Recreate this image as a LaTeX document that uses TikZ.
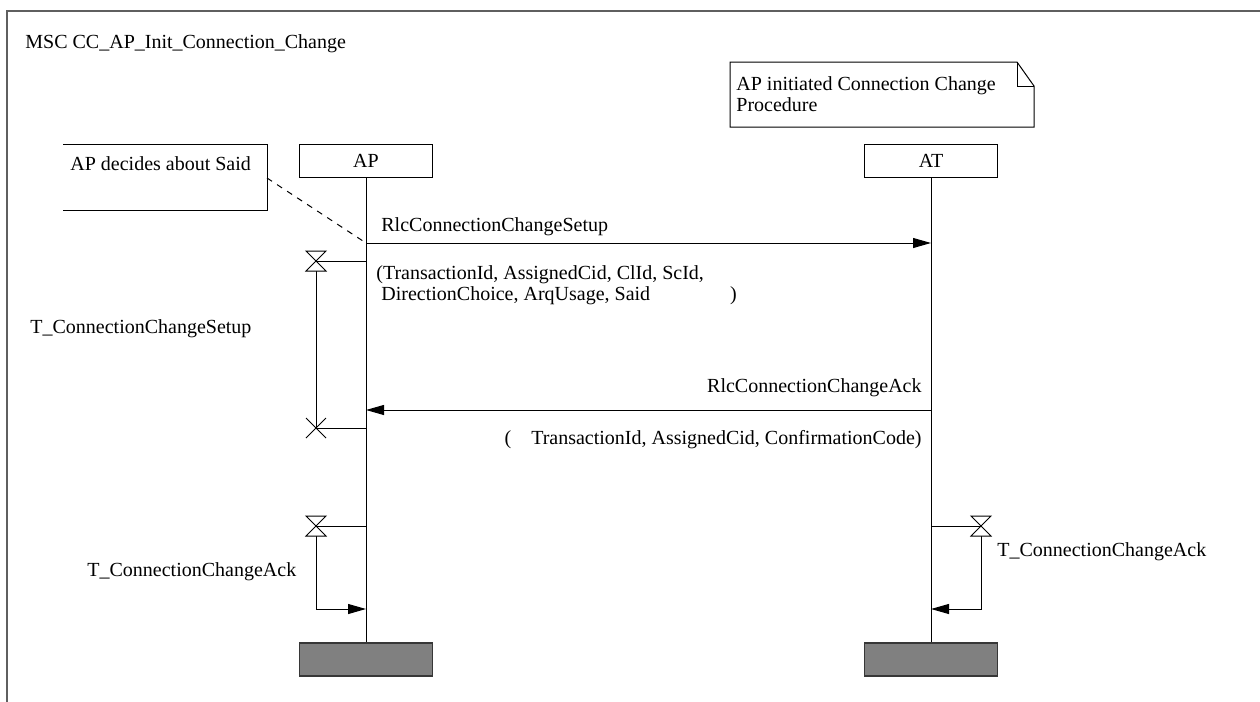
\documentclass[tikz,border=0pt]{standalone}
\usepackage{fontspec}
\setmainfont{Liberation Serif}
\usepackage{tikz}
\usetikzlibrary{arrows.meta, positioning}
\definecolor{framegray}{RGB}{95,95,95}
\definecolor{stopgray}{RGB}{128,128,128}
\definecolor{stopedge}{RGB}{55,55,55}
\newcommand{\mscfont}{\fontsize{10}{10.5}\selectfont}
\tikzset{
  instbox/.style={rectangle, draw, fill=white, minimum width=66.5pt,
    minimum height=16.5pt, inner sep=0pt, line width=0.5pt},
  stopbox/.style={rectangle, draw=stopedge, fill=stopgray, minimum width=66.5pt,
    minimum height=16.5pt, inner sep=0pt, line width=0.7pt},
  label/.style={inner sep=0pt, anchor=base west},
  rlabel/.style={inner sep=0pt, anchor=base east},
  msgarrow/.style={-{Triangle[length=9pt,width=5pt]}, line width=0.5pt},
  lifeline/.style={line width=0.5pt},
  timerline/.style={line width=0.5pt},
  commentline/.style={line width=0.5pt, dash pattern=on 3pt off 3pt},
  hourglass/.pic={\draw[line width=0.5pt, fill=white]
    (-10,-10) -- (10,-10) -- (-10,10) -- (10,10) -- cycle;},
  timeout/.pic={\draw[line width=0.5pt] (-10,-10) -- (10,10) (-10,10) -- (10,-10);}
}

\begin{document}
\begin{tikzpicture}[x=0.5pt, y=-0.5pt, font=\mscfont]
  \useasboundingbox (0,0) rectangle (1260,702);
  % frame and title
  \draw[framegray, line width=1pt] (7,702) -- (7,11) -- (1260,11);
  \node[label] (title) at (25,48) {MSC CC\_AP\_Init\_Connection\_Change};

  % note with folded corner
  \draw[line width=0.5pt] (730,62) -- (1017,62) -- (1034,86) -- (1034,127) -- (730,127) -- cycle;
  \draw[line width=0.5pt] (1017,62) -- (1017,86) -- (1034,86);
  \node[inner sep=0pt, anchor=north west, align=left] (note) at (736,76)
    {AP initiated Connection Change\\Procedure};

  % instances
  \node[instbox] (ap) at (366,160.5) {AP};
  \node[instbox] (at) at (931,160.5) {AT};
  \node[stopbox] (apstop) at (366,659.5) {};
  \node[stopbox] (atstop) at (931,659.5) {};
  \draw[lifeline] (ap) -- (apstop);
  \draw[lifeline] (at) -- (atstop);

  % comment
  \draw[line width=0.5pt] (63,144) -- (267,144) -- (267,210) -- (63,210);
  \node[label] (cmt) at (70,170) {AP decides about Said};
  \coordinate (cmtlink) at (267,178);

  % setup message
  \coordinate (apsetup) at (366,243);
  \coordinate (atsetup) at (931,243);
  \draw[commentline] (cmtlink) -- (apsetup);
  \draw[msgarrow] (apsetup) -- (atsetup);
  \node[label] (setup) at (381,231) {RlcConnectionChangeSetup};
  \node[inner sep=0pt, anchor=north west, align=left] (setuppar) at (376,265)
    {(TransactionId, AssignedCid, ClId, ScId,\\
     \ DirectionChoice, ArqUsage, Said\hspace{40pt})};

  % ack message
  \coordinate (atack) at (931,410);
  \coordinate (apack) at (366,410);
  \draw[msgarrow] (atack) -- (apack);
  \node[rlabel] (ack) at (922,392) {RlcConnectionChangeAck};
  \node[rlabel] (ackpar) at (922,444) {(\hspace{10pt}TransactionId, AssignedCid, ConfirmationCode)};

  % setup timer
  \coordinate (tsetstart) at (316,261);
  \coordinate (tsetstop) at (316,428);
  \draw[timerline] (tsetstart) -- (tsetstart -| ap);
  \draw[timerline] (tsetstop) -- (tsetstop -| ap);
  \draw[timerline] (tsetstart) -- (tsetstop);
  \pic at (tsetstart) {hourglass};
  \pic at (tsetstop) {timeout};
  \node[label] (tset) at (30,333) {T\_ConnectionChangeSetup};

  % ack timer on AP
  \coordinate (tapstart) at (316,526);
  \coordinate (tapbend) at (316,609);
  \draw[timerline] (tapstart) -- (tapstart -| ap);
  \draw[msgarrow] (tapstart) -- (tapbend) -- (tapbend -| ap);
  \pic at (tapstart) {hourglass};
  \node[label] (tap) at (87,576) {T\_ConnectionChangeAck};

  % ack timer on AT
  \coordinate (tatstart) at (981,526);
  \coordinate (tatbend) at (981,609);
  \draw[timerline] (tatstart) -- (tatstart -| at);
  \draw[msgarrow] (tatstart) -- (tatbend) -- (tatbend -| at);
  \pic at (tatstart) {hourglass};
  \node[label] (tat) at (997,556) {T\_ConnectionChangeAck};
\end{tikzpicture}
\end{document}
